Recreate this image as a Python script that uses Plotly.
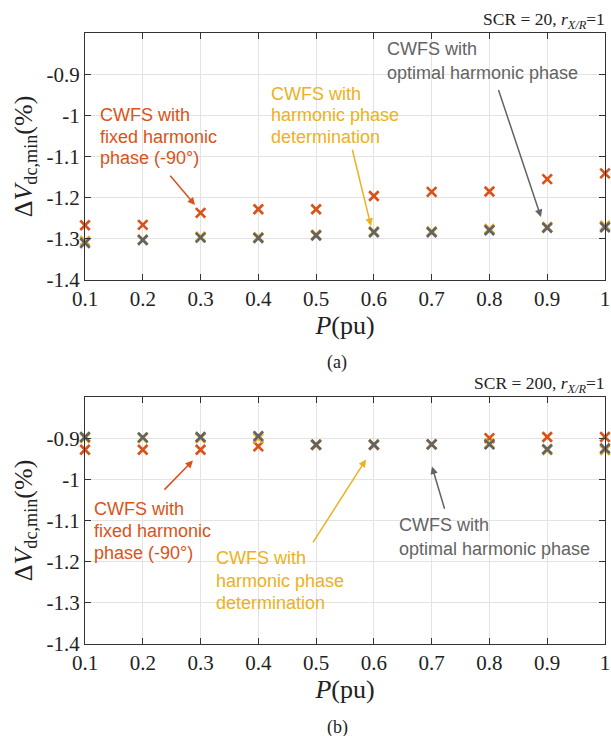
import plotly.graph_objects as go

P = [0.1, 0.2, 0.3, 0.4, 0.5, 0.6, 0.7, 0.8, 0.9, 1.0]
a_fixed = [-1.267, -1.266, -1.237, -1.228, -1.228, -1.196, -1.186, -1.185, -1.155, -1.141]
a_det = [-1.305, -1.302, -1.295, -1.296, -1.290, -1.282, -1.282, -1.276, -1.271, -1.268]
a_opt = [-1.310, -1.303, -1.297, -1.298, -1.292, -1.284, -1.284, -1.279, -1.273, -1.272]
b_fixed = [-0.928, -0.928, -0.928, -0.920, -0.916, -0.916, -0.915, -0.900, -0.897, -0.897]
b_det = [-0.900, -0.900, -0.900, -0.900, -0.916, -0.916, -0.915, -0.913, -0.929, -0.929]
b_opt = [-0.897, -0.898, -0.897, -0.895, -0.916, -0.916, -0.915, -0.915, -0.927, -0.925]

x_ticks = [0.1, 0.2, 0.3, 0.4, 0.5, 0.6, 0.7, 0.8, 0.9, 1.0]
x_ticktext = ["0.1", "0.2", "0.3", "0.4", "0.5", "0.6", "0.7", "0.8", "0.9", "1"]
y_ticks = [-1.4, -1.3, -1.2, -1.1, -1.0, -0.9]
y_ticktext = ["-1.4", "-1.3", "-1.2", "-1.1", "-1", "-0.9"]

RED = "#D95319"
YEL = "#EDB120"
GRY = "#636363"
SANS = "Liberation Sans, Arial, sans-serif"
SERIF = "Liberation Serif, Times New Roman, serif"

fig = go.Figure()

def add_series(y, color, xa, ya):
    fig.add_trace(go.Scatter(
        x=P, y=y, mode="markers", xaxis=xa, yaxis=ya, cliponaxis=False,
        marker=dict(symbol="x-thin", size=9.5, color=color, line=dict(width=2.7, color=color)),
        showlegend=False))

add_series(a_fixed, RED, "x", "y")
add_series(a_det, YEL, "x", "y")
add_series(a_opt, GRY, "x", "y")
add_series(b_fixed, RED, "x2", "y2")
add_series(b_det, YEL, "x2", "y2")
add_series(b_opt, GRY, "x2", "y2")

xdom = [85 / 611, 605 / 611]
ax_common = dict(
    automargin=False,
    showline=True, linecolor="#333333", linewidth=1, mirror="ticks",
    ticks="inside", ticklen=6, tickcolor="#333333", tickwidth=1,
    showgrid=True, gridcolor="#e3e3e3", gridwidth=1, zeroline=False,
    tickfont=dict(family=SERIF, size=21, color="#222"),
)
xcommon = dict(ax_common, range=[0.1, 1.0], tickvals=x_ticks, ticktext=x_ticktext, domain=xdom,
               title=dict(text="<i>P</i>(pu)", font=dict(family=SERIF, size=26, color="#222"), standoff=1))
ycommon = dict(ax_common, range=[-1.4, -0.8], tickvals=y_ticks, ticktext=y_ticktext,
               title=dict(text="Δ<i>V</i><sub>dc,min</sub>(%)", font=dict(family=SERIF, size=26, color="#222"), standoff=6))

fig.update_layout(
    width=611, height=736, margin=dict(l=0, r=0, t=0, b=0),
    paper_bgcolor="white", plot_bgcolor="white",
    xaxis=dict(xcommon, anchor="y"),
    yaxis=dict(ycommon, anchor="x", domain=[1 - 280 / 736, 1 - 33 / 736]),
    xaxis2=dict(xcommon, anchor="y2"),
    yaxis2=dict(ycommon, anchor="x2", domain=[1 - 644 / 736, 1 - 397 / 736]),
)

ann = []
def text_lines(x, ys, lines, color, xr, yr):
    for yy, s in zip(ys, lines):
        ann.append(dict(x=x, y=yy, xref=xr, yref=yr, text=s, showarrow=False, xanchor="left", yanchor="middle",
                        align="left", font=dict(family=SANS, size=18, color=color)))

def arrow(x0, y0, x1, y1, color, xr, yr):
    ann.append(dict(x=x1, y=y1, ax=x0, ay=y0, xref=xr, yref=yr, axref=xr, ayref=yr, text="",
                    showarrow=True, arrowhead=2, arrowsize=1, arrowwidth=1.5, arrowcolor=color))

# panel (a)
text_lines(0.1225, [-1.0, -1.053, -1.104], ["CWFS with", "fixed harmonic", "phase (-90°)"], RED, "x", "y")
text_lines(0.4185, [-0.947, -1.0, -1.053], ["CWFS with", "harmonic phase", "determination"], YEL, "x", "y")
text_lines(0.6192, [-0.840, -0.898], ["CWFS with", "optimal harmonic phase"], GRY, "x", "y")
arrow(0.2454, -1.1429, 0.2904, -1.2179, RED, "x", "y")
arrow(0.5621, -1.080, 0.5950, -1.2688, YEL, "x", "y")
arrow(0.8148, -0.9346, 0.8892, -1.247, GRY, "x", "y")

# panel (b)
text_lines(0.1121, [-1.073, -1.126, -1.179], ["CWFS with", "fixed harmonic", "phase (-90°)"], RED, "x2", "y2")
text_lines(0.3233, [-1.190, -1.246, -1.300], ["CWFS with", "harmonic phase", "determination"], YEL, "x2", "y2")
text_lines(0.6400, [-1.112, -1.170], ["CWFS with", "optimal harmonic phase"], GRY, "x2", "y2")
arrow(0.235, -1.0286, 0.2869, -0.954, RED, "x2", "y2")
arrow(0.4929, -1.157, 0.5863, -0.952, YEL, "x2", "y2")
arrow(0.7231, -1.075, 0.7006, -0.969, GRY, "x2", "y2")

# headers and captions
ann.append(dict(x=607 / 611, y=1 - 20 / 736, xref="paper", yref="paper", xanchor="right", yanchor="middle",
                showarrow=False, text="SCR = 20, <i>r</i><sub><i>X/R</i></sub>=1",
                font=dict(family=SERIF, size=17.5, color="#222")))
ann.append(dict(x=607 / 611, y=1 - 384 / 736, xref="paper", yref="paper", xanchor="right", yanchor="middle",
                showarrow=False, text="SCR = 200, <i>r</i><sub><i>X/R</i></sub>=1",
                font=dict(family=SERIF, size=17.5, color="#222")))
ann.append(dict(x=337 / 611, y=1 - 363 / 736, xref="paper", yref="paper", xanchor="center", yanchor="middle",
                showarrow=False, text="(a)", font=dict(family=SERIF, size=18, color="#222")))
ann.append(dict(x=337 / 611, y=1 - 727 / 736, xref="paper", yref="paper", xanchor="center", yanchor="middle",
                showarrow=False, text="(b)", font=dict(family=SERIF, size=18, color="#222")))

fig.update_layout(annotations=ann)
fig.write_html(
    "out.html",
    config={"displayModeBar": False},
    post_script="document.body.style.margin='0';document.body.style.padding='0';"
                "document.body.style.overflow='hidden';document.documentElement.style.overflow='hidden';",
)
